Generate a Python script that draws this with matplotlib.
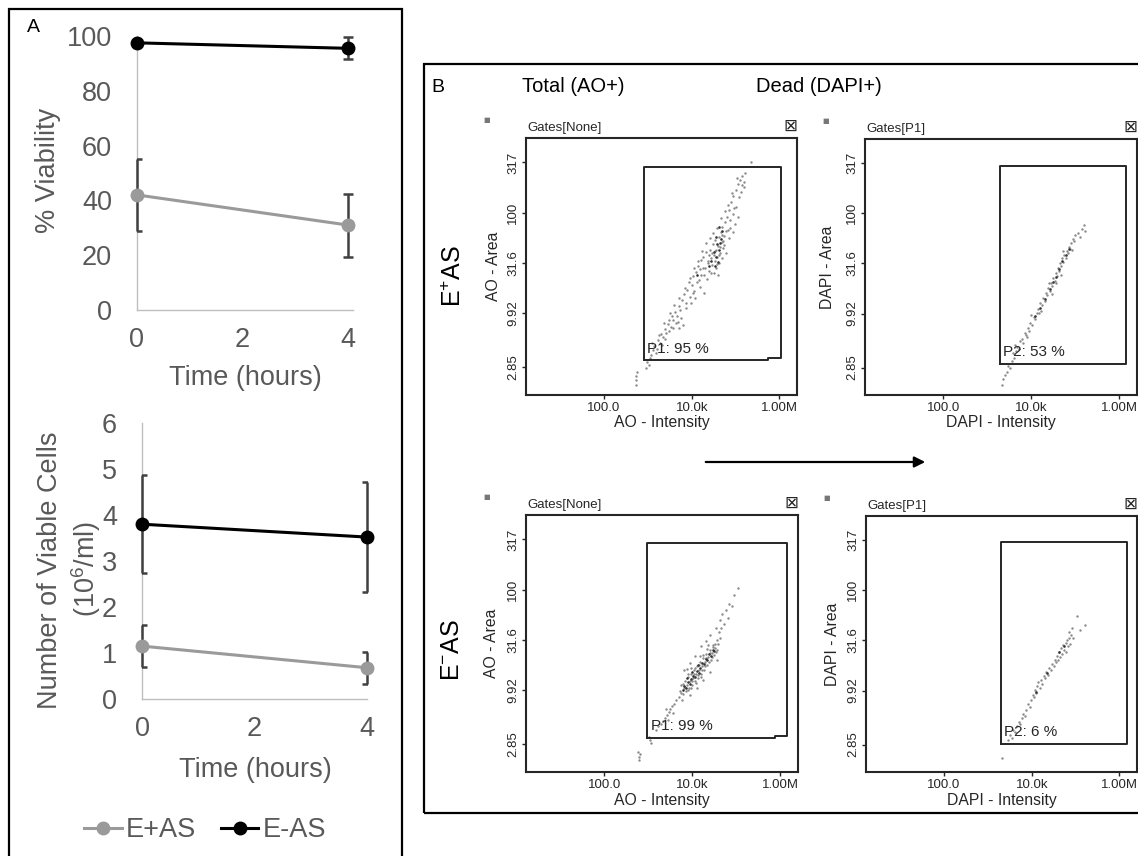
import numpy as np
import matplotlib
matplotlib.use('Agg')
import matplotlib.pyplot as plt
from matplotlib.patches import Rectangle, FancyArrowPatch
from matplotlib.ticker import NullLocator

plt.rcParams['font.family'] = ['Liberation Sans', 'DejaVu Sans']
plt.rcParams['mathtext.fontset'] = 'custom'
plt.rcParams['mathtext.rm'] = 'Liberation Sans'
plt.rcParams['mathtext.it'] = 'Liberation Sans:italic'
plt.rcParams['mathtext.bf'] = 'Liberation Sans:bold'

# ---------------- data (panel A) ----------------
time_h = [0, 4]
series_names = ['E+AS', 'E-AS']
viab_eplus = [42, 31]
viab_eplus_err = [13, 11.5]
viab_eminus = [97.5, 95.5]
viab_eminus_err = [1, 4]
cells_eplus = [1.15, 0.68]
cells_eplus_err = [0.45, 0.35]
cells_eminus = [3.8, 3.52]
cells_eminus_err = [1.07, 1.2]
viab_ticks = [0, 20, 40, 60, 80, 100]
cells_ticks = [0, 1, 2, 3, 4, 5, 6]
time_ticks = [0, 2, 4]

# ---------------- data (panel B, log10 coordinates) ----------------
flow_xticks = [100, 1e4, 1e6]
flow_xticklabels = ['100.0', '10.0k', '1.00M']
flow_yticks = [2.85, 9.92, 31.6, 100, 317]
flow_yticklabels = ['2.85', '9.92', '31.6', '100', '317']

tl_pts = [(2.72,0.28),(2.73,0.33),(2.72,0.37),(2.74,0.41),(2.95,0.45),(2.98,0.51),(3.02,0.48),
(3.08,0.58),(3.12,0.63),(3.15,0.67),(3.20,0.64),(3.22,0.73),(3.27,0.70),(3.30,0.79),(3.34,0.76),(3.38,0.84),
(3.42,0.80),(3.45,0.89),(3.48,0.93),(3.52,0.86),(3.55,0.97),(3.58,0.93),(3.62,1.01),(3.66,0.97),(3.70,1.07),
(3.74,1.03),(3.68,0.91),(3.80,0.88),(3.78,1.13),(3.82,1.19),(3.86,1.10),(3.90,1.23),(3.93,1.31),(3.97,1.16),
(4.00,1.28),(4.03,1.37),(4.06,1.22),(4.10,1.41),(4.12,1.31),(4.15,1.47),(4.18,1.26),(4.20,1.53),(4.22,1.38),
(4.25,1.56),(4.27,1.20),(4.30,1.45),(4.33,1.61),(4.35,1.34),(4.38,1.50),(4.40,1.42),(4.42,1.63),(4.44,1.55),
(4.46,1.48),(4.48,1.69),(4.50,1.40),(4.50,1.58),(4.52,1.52),(4.54,1.73),(4.55,1.45),(4.56,1.63),(4.58,1.56),
(4.60,1.67),(4.60,1.38),(4.62,1.76),(4.63,1.50),(4.65,1.60),(4.66,1.81),(4.68,1.71),(4.70,1.55),(4.70,1.86),
(4.72,1.65),(4.74,1.77),(4.76,1.91),(4.78,1.60),(4.80,1.96),(4.82,1.83),(4.85,2.03),(4.88,1.93),(4.90,2.11),
(4.93,1.99),(4.95,2.17),(4.98,1.89),(5.00,2.23),(5.02,2.06),(5.05,2.29),(5.08,2.16),(5.10,2.33),(5.12,2.21),
(5.15,2.37),(5.18,2.26),(5.20,2.31),(5.05,1.96),(4.95,1.81),(5.36,2.51),
(3.05,0.55),(3.10,0.70),(3.18,0.60),(3.25,0.78),(3.32,0.68),(3.36,0.90),(3.40,0.74),(3.47,0.82),(3.50,1.00),
(3.57,0.85),(3.60,1.08),(3.64,0.90),(3.72,1.15),(3.76,0.95),(3.84,1.25),(3.88,1.05),(3.95,1.35),(3.99,1.10),
(4.05,1.45),(4.08,1.15),(4.14,1.52),(4.17,1.33),(4.23,1.62),(4.26,1.45),(4.32,1.70),(4.36,1.52),(4.41,1.75),
(4.45,1.40),(4.49,1.80),(4.53,1.62),(4.57,1.85),(4.61,1.58),(4.67,1.95),(4.71,1.72),(4.75,2.02),(4.79,1.82),
(4.83,2.08),(4.87,1.85),(4.92,2.20),(4.97,2.05),(5.03,2.35),(5.14,2.28),(5.22,2.40),(4.86,1.75),(4.74,1.68),
(3.70,0.85),(4.02,1.20),(4.28,1.38),(4.47,1.60),(4.64,1.66),(4.69,1.78),(4.57,1.49),(4.39,1.58),(4.19,1.44)]
tl_dark = [(4.45,1.52),(4.50,1.61),(4.55,1.56),(4.58,1.69),(4.62,1.63),(4.66,1.74),(4.52,1.47),(4.60,1.51),
(4.68,1.82),(4.56,1.76),(4.63,1.86),(4.40,1.47),(4.12,1.38),(4.64,1.70)]

tr_pts = [(3.33,0.28),(3.36,0.34),(3.40,0.38),(3.45,0.41),(3.48,0.47),(3.52,0.45),(3.55,0.52),(3.60,0.55),
(3.58,0.60),(3.65,0.62),(3.68,0.66),(3.72,0.64),(3.75,0.72),(3.78,0.74),(3.82,0.70),(3.85,0.80),(3.88,0.78),
(3.92,0.85),(3.95,0.82),(3.98,0.90),(4.02,0.88),(4.05,0.96),(4.08,0.94),(4.12,1.00),(4.15,1.04),(4.18,1.00),
(4.20,1.10),(4.24,1.08),(4.27,1.15),(4.30,1.12),(4.33,1.20),(4.36,1.18),(4.38,1.25),(4.42,1.22),(4.45,1.30),
(4.48,1.27),(4.50,1.35),(4.53,1.32),(4.55,1.40),(4.58,1.37),(4.60,1.45),(4.63,1.42),(4.65,1.50),(4.68,1.47),
(4.70,1.55),(4.72,1.51),(4.75,1.58),(4.78,1.55),(4.80,1.62),(4.83,1.60),(4.85,1.66),(4.88,1.64),(4.90,1.70),
(4.94,1.74),(4.97,1.72),(5.00,1.78),(5.05,1.80),(5.10,1.76),(5.15,1.84),(5.20,1.88),(5.22,1.82),
(3.62,0.68),(3.90,0.76),(4.00,0.98),(4.22,1.02),(4.40,1.30),(4.57,1.30),(4.73,1.62),(4.92,1.63),(4.46,1.19),
(4.67,1.38)]
tr_dark = [(4.30,1.14),(4.42,1.24),(4.55,1.36),(4.62,1.44),(4.70,1.52),(4.78,1.58),(4.85,1.64),(4.50,1.31),
(4.20,1.05),(4.08,0.97)]

bl_pts = [(2.76,0.38),(2.78,0.33),(2.80,0.36),(2.79,0.30),(3.04,0.50),(3.07,0.47),(3.02,0.53),
(3.18,0.60),(3.22,0.64),(3.28,0.66),(3.33,0.69),(3.37,0.72),(3.42,0.75),(3.46,0.78),(3.50,0.81),(3.54,0.84),
(3.58,0.86),(3.62,0.90),(3.45,0.70),(3.55,0.77),(3.40,0.81),(3.70,0.93),(3.72,0.99),(3.75,1.05),(3.78,0.96),
(3.80,1.02),(3.83,1.09),(3.85,0.99),(3.87,1.05),(3.90,1.13),(3.92,1.02),(3.94,1.09),(3.97,1.16),(3.99,1.05),
(4.01,1.12),(4.04,1.20),(4.06,1.09),(4.08,1.16),(4.11,1.24),(4.13,1.12),(4.15,1.20),(4.18,1.28),(4.20,1.16),
(4.22,1.24),(4.25,1.32),(4.27,1.20),(4.29,1.28),(4.32,1.36),(4.34,1.25),(4.36,1.33),(4.39,1.40),(4.42,1.30),
(4.44,1.37),(4.47,1.45),(4.50,1.35),(4.52,1.42),(4.55,1.50),(4.57,1.40),(3.80,1.20),(3.95,1.27),(4.05,1.34),
(4.20,1.44),(4.30,1.49),(4.40,1.55),(3.95,0.95),(4.10,1.02),(4.25,1.10),(4.40,1.18),(4.55,1.30),(3.88,1.21),
(3.76,0.90),(4.62,1.52),(4.53,1.62),(4.60,1.58),(4.62,1.70),(4.68,1.76),(4.72,1.66),(4.76,1.80),(4.84,1.86),
(4.80,1.72),(4.90,1.84),(5.03,2.02),(4.95,1.95),(4.66,1.62),
(3.74,0.97),(3.79,1.06),(3.84,1.03),(3.89,1.00),(3.91,1.16),(3.96,1.02),(4.00,1.09),(4.03,1.16),(4.07,1.22),
(4.09,1.07),(4.12,1.15),(4.16,1.25),(4.19,1.13),(4.23,1.20),(4.24,1.35),(4.28,1.24),(4.31,1.32),(4.33,1.41),
(4.37,1.28),(4.41,1.37),(4.45,1.33),(4.48,1.43),(4.51,1.46),(4.54,1.38),(4.58,1.46),(3.98,1.22),(4.17,1.34),
(4.35,1.45)]
bl_dark = [(3.78,1.00),(3.82,1.04),(3.86,1.02),(3.90,1.08),(3.94,1.06),(3.97,1.11),(4.02,1.14),(4.06,1.13),
(4.10,1.19),(4.14,1.17),(4.18,1.22),(4.22,1.27),(4.26,1.26),(4.30,1.31),(4.34,1.30),(4.38,1.36),(4.42,1.34),
(4.46,1.40),(4.50,1.39),(3.88,1.12),(4.00,1.18),(4.12,1.25)]

br_pts = [(3.31,0.32),(3.45,0.50),(3.50,0.55),(3.55,0.52),(3.58,0.60),(3.62,0.58),(3.66,0.64),(3.70,0.68),
(3.74,0.66),(3.77,0.72),(3.80,0.76),(3.84,0.74),(3.88,0.80),(3.92,0.86),(3.95,0.83),(3.99,0.90),(4.02,0.95),
(4.05,0.93),(4.08,1.00),(4.12,1.04),(4.10,0.97),(4.15,1.08),(4.18,1.02),(4.20,1.10),(4.24,1.06),(4.27,1.14),
(4.30,1.12),(4.33,1.18),(4.36,1.15),(4.40,1.22),(4.44,1.20),(4.46,1.26),(4.50,1.24),(4.52,1.30),(4.55,1.28),
(4.58,1.34),(4.60,1.30),(4.62,1.38),(4.65,1.33),(4.67,1.42),(4.70,1.36),(4.72,1.45),(4.74,1.40),(4.77,1.47),
(4.78,1.38),(4.80,1.50),(4.82,1.44),(4.85,1.52),(4.87,1.46),(4.90,1.55),(4.84,1.58),(4.95,1.52),(5.03,1.74),
(5.22,1.65),(5.10,1.60),(4.92,1.62)]
br_dark = [(4.35,1.17),(4.62,1.38),(4.74,1.44),(4.10,0.98)]

gate_tl = ([2.92, 2.92, 6.04, 6.04, 5.73, 5.73, 2.92], [0.525, 2.455, 2.455, 0.545, 0.545, 0.525, 0.525])
gate_tr = ([3.29, 3.29, 6.16, 6.16, 3.29], [0.495, 2.475, 2.475, 0.495, 0.495])
gate_bl = ([2.97, 2.97, 6.16, 6.16, 5.88, 5.88, 2.97], [0.52, 2.47, 2.47, 0.54, 0.54, 0.52, 0.52])
gate_br = ([3.29, 3.29, 6.18, 6.18, 3.29], [0.465, 2.485, 2.485, 0.465, 0.465])

# ---------------- figure ----------------
W, H = 1138, 856
fig = plt.figure(figsize=(W / 100, H / 100), dpi=100)

def px_rect(x0, y0, x1, y1):
    return [x0 / W, 1 - y1 / H, (x1 - x0) / W, (y1 - y0) / H]

def ftext(x, y, s, **kw):
    kw.setdefault('ha', 'center')
    kw.setdefault('va', 'center')
    return fig.text(x / W, 1 - y / H, s, **kw)

GRAY = '#9a9a9a'
ERR = '#404040'
TXT = '#595959'
AXC = '#bfbfbf'
FS_A = 19.5

def style_line_axes(ax):
    for s in ['top', 'right']:
        ax.spines[s].set_visible(False)
    for s in ['left', 'bottom']:
        ax.spines[s].set_color(AXC)
        ax.spines[s].set_linewidth(1.0)
    ax.tick_params(length=0, labelsize=FS_A, labelcolor=TXT)
    ax.tick_params(axis='y', pad=18)
    ax.tick_params(axis='x', pad=12)

def draw_series(ax, yp, ype, ym, yme):
    for yv, ev in ((yp, ype), (ym, yme)):
        eb = ax.errorbar(time_h, yv, yerr=ev, fmt='none', ecolor=ERR, elinewidth=1.8,
                         capsize=3.5, capthick=1.8, zorder=2.6)
        for bl in eb[2]:
            bl.set_clip_on(False)
    l1, = ax.plot(time_h, yp, color=GRAY, lw=2.2, marker='o', ms=9, clip_on=False, zorder=3)
    l2, = ax.plot(time_h, ym, color='black', lw=2.2, marker='o', ms=9, clip_on=False, zorder=4)
    return l1, l2

# Panel A top
axA1 = fig.add_axes(px_rect(137, 36, 353, 310))
draw_series(axA1, viab_eplus, viab_eplus_err, viab_eminus, viab_eminus_err)
axA1.set_xlim(0, 4.095)
axA1.set_ylim(0, 100)
axA1.set_xticks(time_ticks)
axA1.set_yticks(viab_ticks)
style_line_axes(axA1)
ftext(48, 170, '% Viability', rotation=90, fontsize=FS_A, color=TXT)
ftext(245, 378, 'Time (hours)', fontsize=FS_A, color=TXT)

# Panel A bottom
axA2 = fig.add_axes(px_rect(142, 423, 367, 699))
l1, l2 = draw_series(axA2, cells_eplus, cells_eplus_err, cells_eminus, cells_eminus_err)
axA2.set_xlim(0, 4)
axA2.set_ylim(0, 6)
axA2.set_xticks(time_ticks)
axA2.set_yticks(cells_ticks)
style_line_axes(axA2)
ftext(50, 570, 'Number of Viable Cells', rotation=90, fontsize=FS_A, color=TXT)
ftext(86, 569, '(10$^{6}$/ml)', rotation=90, fontsize=FS_A, color=TXT)
ftext(255, 770, 'Time (hours)', fontsize=FS_A, color=TXT)
leg = axA2.legend([l1, l2], series_names, ncol=2, loc='center',
                  bbox_to_anchor=(205 / W, 1 - 830 / H), bbox_transform=fig.transFigure,
                  frameon=False, fontsize=FS_A, handlelength=1.4, handletextpad=0.15,
                  columnspacing=0.9, labelcolor=TXT)

ftext(33, 27, 'A', fontsize=14, color='black')
fig.add_artist(Rectangle((9 / W, 1 - 880 / H), (402 - 9) / W, (880 - 9) / H, fill=False,
                         lw=1.6, ec='black', transform=fig.transFigure))

# Panel B
fig.add_artist(Rectangle((424 / W, 1 - 813 / H), (1160 - 424) / W, (813 - 64) / H, fill=False,
                         lw=1.6, ec='black', transform=fig.transFigure))
ftext(438, 87, 'B', fontsize=14, color='black')
ftext(573, 87, 'Total (AO+)', fontsize=14.5, color='black')
ftext(819, 87, 'Dead (DAPI+)', fontsize=14.5, color='black')
ftext(454, 276, 'E$^{+}$AS', rotation=90, fontsize=18, color='black')
ftext(452, 650, 'E$^{-}$AS', rotation=90, fontsize=18, color='black')

XLIM = (10 ** 0.22, 10 ** 6.4)
YLIM = (10 ** 0.18, 10 ** 2.745)
DK = '#262626'

def flow_panel(rect, pts, dark, gate, label, label_xy, xlabel, ylabel,
               gates_title, ylab_x):
    ax = fig.add_axes(px_rect(*rect))
    ax.set_xscale('log')
    ax.set_yscale('log')
    px = np.power(10.0, [p[0] for p in pts])
    py = np.power(10.0, [p[1] for p in pts])
    ax.scatter(px, py, s=3, c='#8a8a8a', linewidths=0, zorder=2)
    dx = np.power(10.0, [p[0] for p in dark])
    dy = np.power(10.0, [p[1] for p in dark])
    ax.scatter(dx, dy, s=3.5, c='#333333', linewidths=0, zorder=3)
    ax.plot(np.power(10.0, gate[0]), np.power(10.0, gate[1]), color=DK, lw=1.4, zorder=4)
    ax.text(10 ** label_xy[0], 10 ** label_xy[1], label, fontsize=11, color=DK,
            ha='left', va='center', zorder=5)
    ax.set_xlim(XLIM)
    ax.set_ylim(YLIM)
    ax.set_xticks(flow_xticks)
    ax.set_xticklabels(flow_xticklabels)
    ax.set_yticks(flow_yticks)
    ax.set_yticklabels(flow_yticklabels, rotation=90, va='center')
    ax.xaxis.set_minor_locator(NullLocator())
    ax.yaxis.set_minor_locator(NullLocator())
    ax.tick_params(length=3, width=1, labelsize=9.5, colors=DK, pad=2)
    for s in ax.spines.values():
        s.set_linewidth(1.5)
        s.set_color(DK)
    x0, y0, x1, y1 = rect
    ftext((x0 + x1) / 2, y1 + 28, xlabel, fontsize=11.3, color=DK)
    ftext(ylab_x, (y0 + y1) / 2, ylabel, rotation=90, fontsize=11.3, color=DK)
    ftext(x0 + 1, y0 - 10, gates_title, fontsize=9.5, color=DK, ha='left')
    ftext(x0 - 39, y0 - 18, '\u25a0', fontsize=5, color='#777777', family=['DejaVu Sans'])
    ftext(x1, y0 - 12, '\u22a0', fontsize=12, color=DK, ha='right', family=['DejaVu Sans'])
    return ax

flow_panel((526, 138, 797, 395), tl_pts, tl_dark, gate_tl, 'P1: 95 %', (2.97, 0.644),
           'AO - Intensity', 'AO - Area', 'Gates[None]', 494)
flow_panel((865, 139, 1137, 395), tr_pts, tr_dark, gate_tr, 'P2: 53 %', (3.36, 0.614),
           'DAPI - Intensity', 'DAPI - Area', 'Gates[P1]', 828)
flow_panel((526, 515, 798, 772), bl_pts, bl_dark, gate_bl, 'P1: 99 %', (3.06, 0.64),
           'AO - Intensity', 'AO - Area', 'Gates[None]', 492)
flow_panel((866, 516, 1137, 772), br_pts, br_dark, gate_br, 'P2: 6 %', (3.36, 0.585),
           'DAPI - Intensity', 'DAPI - Area', 'Gates[P1]', 832)

fig.add_artist(FancyArrowPatch((703 / W, 1 - 462 / H), (928 / W, 1 - 462 / H),
                               transform=fig.transFigure, arrowstyle='-|>',
                               mutation_scale=16, lw=1.6, color='black'))

fig.savefig('out.png', dpi=100)
